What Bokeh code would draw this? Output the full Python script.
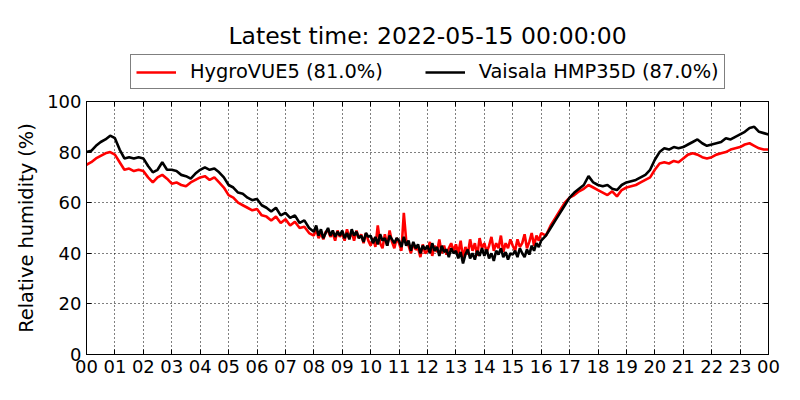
import pandas as pd
from bokeh.plotting import figure
from bokeh.layouts import column
from bokeh.models import (FixedTicker, DatetimeTickFormatter, Legend, LegendItem,
                          LinearAxis, DatetimeAxis, Range1d, Label)
from bokeh.embed import file_html
from bokeh.resources import INLINE

title_text = "Latest time: 2022-05-15 00:00:00"
y_label = "Relative humidity (%)"
series_names = ["HygroVUE5 (81.0%)", "Vaisala HMP35D (87.0%)"]
series_colors = ["#ff0000", "#000000"]
y_ticks = [0, 20, 40, 60, 80, 100]

# sample times: 10-min steps, 5-min steps through the noisy middle of the day
times = (list(pd.date_range("2022-05-14 00:00", "2022-05-14 07:50", freq="10min"))
         + list(pd.date_range("2022-05-14 08:00", "2022-05-14 15:55", freq="5min"))
         + list(pd.date_range("2022-05-14 16:00", "2022-05-15 00:00", freq="10min")))

# Relative humidity (%)
hygrovue5 = [
    # 00-08 h, 10-min
    75, 76, 77.5, 78.5, 79.5, 80,
    79, 76, 73, 73.5, 72.5, 73,
    72.5, 70, 68, 70, 71, 69.5,
    67.5, 68, 67, 66.5, 68, 69,
    70, 70.5, 69, 70, 68, 66,
    63, 62, 60, 59, 58, 57,
    57.5, 55, 54.5, 53, 54.5, 52,
    53.5, 51, 52.5, 50, 50.5, 48,
    # 08-16 h, 5-min
    47, 49.5, 46, 48, 45.5, 48.5, 49, 46.5, 48, 45, 49, 46.5,
    48, 45, 49.5, 46, 48.5, 45, 49, 46, 47.5, 44, 48, 45,
    43, 46, 42.5, 51, 44, 42, 47.5, 43, 49, 44.5, 42, 46,
    44, 41, 56, 45, 43, 40, 44, 41.5, 42, 38.5, 43.5, 40,
    41, 44.5, 39, 43, 40.5, 45.5, 40, 43, 39.5, 42, 44, 41,
    43.5, 40, 45, 38, 42.5, 39.5, 45.5, 41, 44, 39, 46, 42,
    44, 40.5, 43, 46.5, 41, 44, 42, 47, 40.5, 44, 42, 45.5,
    43, 41, 45.5, 42.5, 44, 47.5, 42, 44.5, 48, 43, 47, 45,
    # 16-24 h, 10-min
    48, 47, 51, 54, 57, 60,
    62, 63, 64.5, 65.5, 67, 66,
    65, 64, 63, 64.5, 62.5, 65,
    66, 66.5, 67, 68, 69, 70,
    73, 75.5, 76, 75.5, 76.5, 76,
    77.5, 79, 79.5, 79, 78, 77.5,
    78, 79, 79.5, 80, 81, 81.5,
    82, 83, 83.5, 82.5, 81.5, 81,
    81,
]
vaisala_hmp35d = [
    # 00-08 h, 10-min
    80, 80.5, 82.5, 84, 85, 86.5,
    85.5, 81, 77.5, 78, 77.5, 78,
    77.5, 74.5, 72, 73, 76, 73,
    73, 72.5, 71, 70.5, 69.5, 71.5,
    73, 74, 73, 73.5, 72, 70,
    67, 66, 64, 63.5, 62, 61,
    61.5, 59, 58, 56.5, 58, 55,
    56, 54, 55, 52, 53, 50,
    # 08-16 h, 5-min
    48.5, 51, 47, 49.5, 46, 48, 50, 47, 49, 46.5, 48.5, 47,
    49, 46, 48, 45.5, 49.5, 47, 48.5, 46, 47, 44.5, 48, 46.5,
    47, 44, 46.5, 43.5, 47.5, 45, 46, 43, 47, 45.5, 44, 46,
    45, 42.5, 46.5, 43, 45, 41, 44.5, 42, 43.5, 40, 43, 41.5,
    43, 40, 44, 41, 42.5, 39, 43, 40.5, 41.5, 38.5, 42, 40,
    41, 38, 40.5, 36, 39.5, 41.5, 38, 40, 37.5, 41, 39, 42,
    39, 41.5, 38, 40, 37, 41, 39.5, 42, 38.5, 40.5, 37.5, 40,
    39.5, 41, 38.5, 42, 40, 38.5, 41.5, 39.5, 43, 41, 44, 42.5,
    # 16-24 h, 10-min
    45, 47, 50, 53, 56, 59,
    62, 64, 65.5, 67, 70.5, 68,
    67, 66.5, 67, 65.5, 65, 67,
    68, 68.5, 69, 70, 71, 73,
    77, 80, 81.5, 81, 82, 81.5,
    82, 83, 84, 85, 83.5, 82.5,
    83, 83.5, 84, 85.5, 85, 86,
    87, 88, 89.5, 90, 88, 87.5,
    87,
]

hour_ticks = pd.date_range("2022-05-14 00:00", "2022-05-15 00:00", freq="1h")
tick_ms = [int(t.value // 10**6) for t in hour_ticks]

FONT = "DejaVu Sans"
LINE_W = 2.6
HEAD_H = 90

# ---------- header: title + legend (frame is aligned with the plot frame) ----------
head = figure(width=800, height=HEAD_H, output_backend="svg", toolbar_location=None,
              x_range=Range1d(0, 1), y_range=Range1d(0, 1),
              x_axis_location=None, y_axis_location=None,
              min_border_left=86, min_border_right=32, min_border_top=0,
              min_border_bottom=0, outline_line_color=None)
head.grid.visible = False
head.title.visible = False

head.add_layout(Label(x=341, y=HEAD_H - 35, x_units="screen", y_units="screen",
                      text=title_text, text_align="center",
                      text_baseline="alphabetic", text_font=FONT,
                      text_font_size="23.5px", text_color="black"))

# single-point lines: nothing drawn, they only lend their style to the legend
l1 = head.line([0], [0], line_color=series_colors[0], line_width=LINE_W)
l2 = head.line([0], [0], line_color=series_colors[1], line_width=LINE_W)
legend = Legend(items=[LegendItem(label=series_names[0], renderers=[l1]),
                       LegendItem(label=series_names[1], renderers=[l2])],
                orientation="horizontal", location=(44, 1),
                label_text_font=FONT, label_text_font_size="19.4px",
                label_text_color="black",
                glyph_width=40, glyph_height=20, label_height=20,
                label_standoff=14, spacing=42, padding=5, margin=0,
                border_line_color="black", border_line_width=1,
                background_fill_color="white", background_fill_alpha=1)
head.add_layout(legend)

# ---------- main plot ----------
p = figure(width=800, height=400 - HEAD_H, x_axis_type="datetime",
           output_backend="svg", toolbar_location=None,
           min_border_left=86, min_border_right=32,
           min_border_top=101 - HEAD_H, min_border_bottom=46,
           x_range=Range1d(times[0], times[-1]), y_range=Range1d(0, 100))
p.title.visible = False

p.line(times, hygrovue5, line_color=series_colors[0], line_width=LINE_W)
p.line(times, vaisala_hmp35d, line_color=series_colors[1], line_width=LINE_W)

fmt = DatetimeTickFormatter(hours="%H", days="%H", hourmin="%H", minutes="%H",
                            months="%H", years="%H")

p.xaxis.ticker = FixedTicker(ticks=tick_ms)
p.xaxis.formatter = fmt
p.yaxis.ticker = FixedTicker(ticks=y_ticks)
p.yaxis.axis_label = y_label

for ax in (p.xaxis[0], p.yaxis[0]):
    ax.major_label_text_font = FONT
    ax.major_label_text_font_size = "18px"
    ax.major_label_text_color = "black"
    ax.axis_line_color = "black"
    ax.major_tick_line_color = "black"
    ax.major_tick_in = 5
    ax.major_tick_out = 0
    ax.minor_tick_line_color = None
    ax.major_label_standoff = 5
p.yaxis.axis_label_text_font = FONT
p.yaxis.axis_label_text_font_size = "19.4px"
p.yaxis.axis_label_text_font_style = "normal"
p.yaxis.axis_label_text_color = "black"
p.yaxis.axis_label_standoff = 6

# inward ticks on the top and right edges (labels not drawn)
rax = LinearAxis(ticker=FixedTicker(ticks=y_ticks), major_label_text_font_size="2px",
                 major_label_text_color=None,
                 major_tick_in=5, major_tick_out=0, minor_tick_line_color=None,
                 axis_line_color="black", major_tick_line_color="black",
                 major_label_standoff=0)
p.add_layout(rax, "right")
tax = DatetimeAxis(ticker=FixedTicker(ticks=tick_ms), formatter=fmt,
                   major_label_text_font_size="2px", major_label_text_color=None,
                   major_tick_in=5, major_tick_out=0, minor_tick_line_color=None,
                   axis_line_color="black", major_tick_line_color="black",
                   major_label_standoff=0)
p.add_layout(tax, "above")

p.outline_line_color = "black"
p.outline_line_width = 1
for g in (p.xgrid[0], p.ygrid[0]):
    g.grid_line_color = "black"
    g.grid_line_dash = "1 3"
    g.grid_line_width = 1

layout = column(head, p)
open("out.html", "w").write(file_html(layout, INLINE))
